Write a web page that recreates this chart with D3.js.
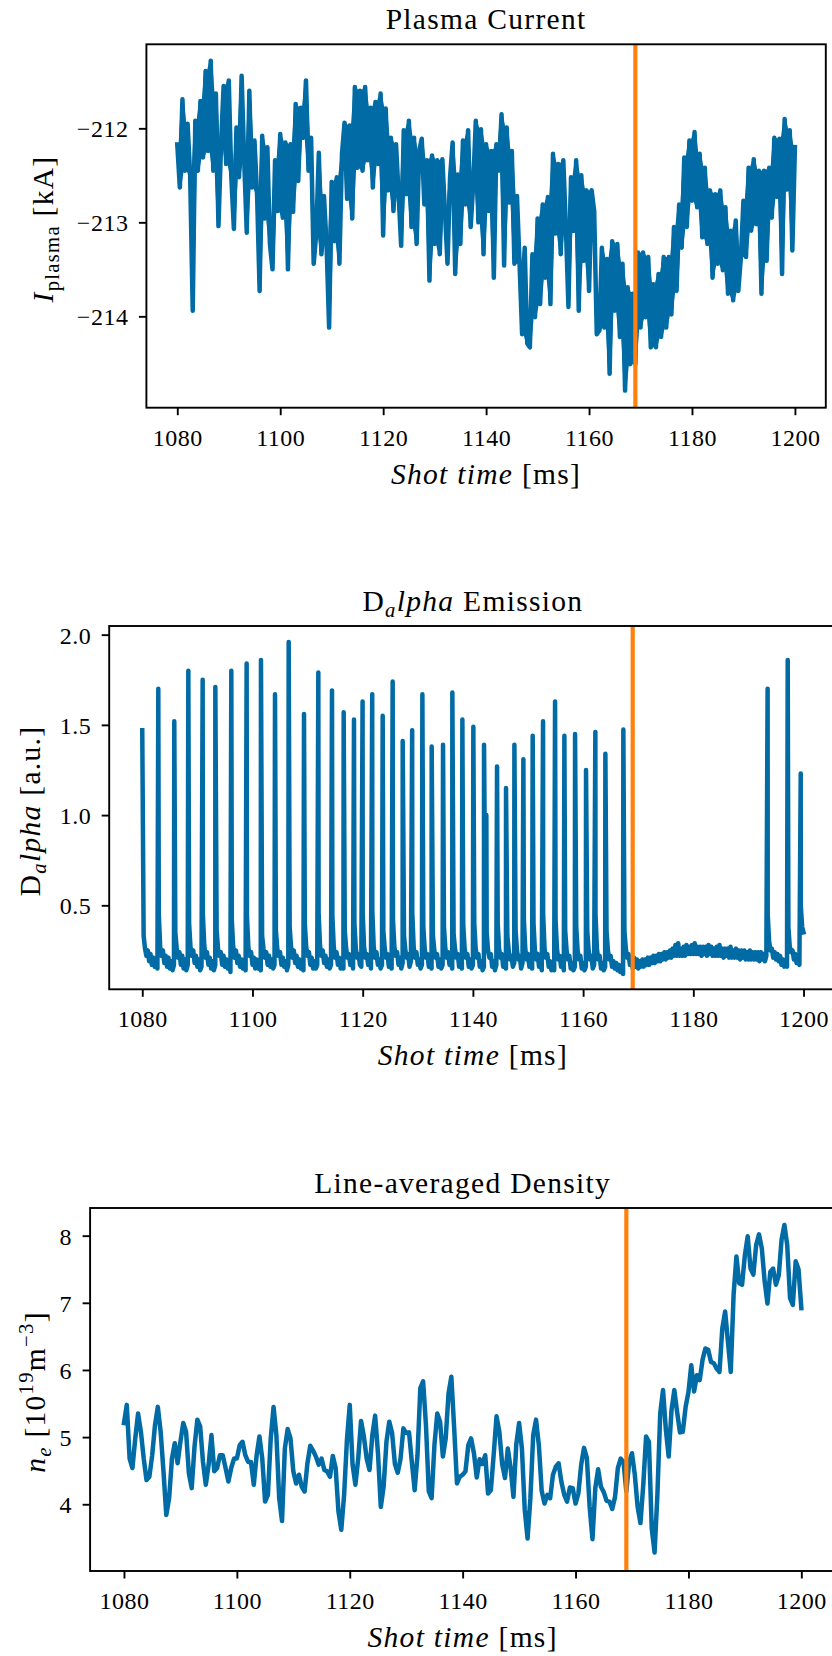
<!DOCTYPE html>
<html><head><meta charset="utf-8">
<script src="https://cdn.jsdelivr.net/npm/d3@7"></script>
<style>
html,body{margin:0;padding:0;background:#fff;}
svg{display:block;}
text{font-family:'Liberation Serif','Times New Roman',serif;fill:#000;}
</style></head><body>
<svg id="chart" width="832" height="1656"></svg>
<script>
// ---------- shared ----------
const timeTicks = [1080, 1100, 1120, 1140, 1160, 1180, 1200];
const timeDomain = [1074, 1206];
const markerTime = 1169;

// ---------- Plasma current (kA), sampled every 0.5 ms from 1080 ms ----------
const currentStart = 1080, currentStep = 0.5;
const currentValues = [
-212.17,-212.63,-211.69,-212.45,-211.95,-212.50,-213.94,-211.92,-212.45,-211.71,
-212.31,-211.39,-212.24,-211.28,-212.45,-211.63,-213.04,-212.17,-211.55,-212.38,
-211.49,-212.52,-213.07,-211.99,-212.52,-211.44,-212.34,-213.11,-211.60,-212.63,
-212.13,-212.70,-213.73,-212.08,-212.96,-212.20,-213.23,-213.50,-212.34,-212.88,
-212.06,-212.95,-212.15,-213.50,-212.17,-212.89,-211.74,-212.56,-211.78,-212.10,
-211.49,-212.45,-212.10,-213.44,-213.12,-212.26,-213.34,-212.72,-213.23,-214.12,
-212.57,-213.20,-212.52,-213.44,-212.27,-211.94,-212.75,-211.97,-212.96,-211.56,
-212.42,-211.60,-212.45,-211.56,-212.34,-211.78,-212.63,-211.72,-212.38,-211.63,
-213.14,
-211.79,-212.66,-212.10,-212.88,-212.17,-212.70,-213.25,-212.02,-212.70,-211.92,
-213.05,-212.10,-213.23,-212.24,-212.11,-212.81,-212.34,-213.62,-212.29,-213.23,
-212.34,-213.34,-212.33,-212.88,-213.44,-212.52,-212.15,-213.55,-212.49,-213.23,
-212.13,-212.81,-212.02,-213.05,-212.59,-211.92,-213.00,-212.01,-213.34,-212.17,
-212.88,-212.24,-213.59,-212.17,-212.45,-211.85,-213.46,-211.99,-212.79,-212.24,
-213.44,-212.72,-213.44,-214.19,-213.27,-214.29,-214.33,-213.34,-214.01,-212.96,
-213.87,-212.81,-213.59,-212.73,-213.87,-212.27,-213.12,-212.38,-213.34,-212.34,
-213.05,-213.90,-212.52,-213.09,-212.34,-213.94,-212.50,-213.41,-212.66,-213.73,
-212.66,-212.88,-214.19,-214.15,-213.27,-214.12,-213.39,-214.61,-213.20,-213.94,
-213.23,-214.22,-213.44,-214.79,-213.69,-214.51,-213.76,-214.51,-213.32,-214.12,
-213.32,-214.01,-213.37,-214.33,-213.66,-214.33,-213.55,-214.22,-213.37,-214.12,
-213.37,-213.98,-213.05,-213.73,-212.81,-213.27,-212.31,-213.05,-212.13,-212.77,
-212.04,-212.84,-212.27,-213.16,-212.42,-213.23,-212.66,-213.59,-212.70,-213.44,
-212.66,-213.51,-212.84,-213.76,-213.09,-213.83,-212.98,-213.73,-213.37,-212.77,
-213.37,-212.42,-213.09,-212.33,-213.02,-212.45,-213.76,-212.45,-213.41,-212.42,
-212.95,-212.10,-212.73,-212.11,-213.55,-211.90,-212.65,-212.02,-213.30,-212.20
];
const currentTicks = [-214, -213, -212];
const currentDomain = [-214.972, -211.106];

// ---------- D-alpha (a.u.), sampled every 0.25 ms from 1080 ms, plus ELM peaks ----------
const dalphaStart = 1080, dalphaStep = 0.25;
const dalphaValues = [
1.47,0.33,0.26,0.22,0.25,0.19,0.23,0.17,0.21,0.16,
0.20,0.15,0.45,0.27,0.22,0.25,0.18,0.22,0.16,0.21,
0.15,0.19,0.14,0.17,0.35,0.26,0.21,0.24,0.17,0.22,
0.15,0.20,0.14,0.17,0.40,0.27,0.22,0.25,0.18,0.22,
0.16,0.20,0.14,0.16,0.45,0.28,0.21,0.24,0.17,0.21,
0.15,0.19,0.14,0.17,0.36,0.26,0.22,0.24,0.17,0.22,
0.16,0.20,0.15,0.19,0.13,0.42,0.27,0.21,0.25,0.18,
0.22,0.16,0.20,0.15,0.18,0.14,0.44,0.27,0.22,0.24,
0.17,0.21,0.15,0.20,0.15,0.18,0.14,0.33,0.26,0.21,
0.24,0.17,0.22,0.16,0.20,0.15,0.17,0.36,0.26,0.22,
0.24,0.17,0.21,0.16,0.19,0.14,0.17,0.38,0.27,0.21,
0.25,0.18,0.22,0.16,0.20,0.15,0.18,0.14,0.40,0.27,
0.22,0.24,0.17,0.21,0.15,0.19,0.15,0.17,0.46,0.28,
0.22,0.25,0.18,0.22,0.16,0.20,0.15,0.17,0.44,0.27,
0.21,0.24,0.17,0.21,0.15,0.19,0.15,0.36,0.26,0.21,
0.23,0.17,0.20,0.15,0.40,0.26,0.21,0.23,0.17,0.16,
0.46,0.27,0.21,0.23,0.17,0.20,0.15,0.47,0.27,0.21,
0.24,0.17,0.20,0.15,0.17,0.36,0.26,0.21,0.23,0.16,
0.19,0.15,0.42,0.27,0.22,0.24,0.17,0.21,0.15,0.18,
0.33,0.25,0.21,0.23,0.16,0.19,0.46,0.27,0.21,0.24,
0.17,0.20,0.15,0.17,0.38,0.26,0.21,0.23,0.16,0.19,
0.15,0.33,0.25,0.21,0.23,0.16,0.20,0.15,0.17,0.38,
0.26,0.21,0.24,0.17,0.19,0.15,0.34,0.26,0.21,0.23,
0.16,0.19,0.15,0.39,0.26,0.21,0.23,0.16,0.20,0.15,
0.17,0.40,0.26,0.21,0.23,0.16,0.19,0.14,0.16,0.45,
0.35,0.25,0.21,0.23,0.16,0.19,0.14,0.17,0.40,0.26,
0.21,0.23,0.16,0.19,0.15,0.33,0.25,0.20,0.22,0.16,
0.18,0.36,0.25,0.20,0.22,0.15,0.18,0.42,0.26,0.20,
0.23,0.16,0.19,0.15,0.40,0.25,0.20,0.23,0.16,0.19,
0.14,0.45,0.26,0.21,0.23,0.16,0.19,0.14,0.17,0.14,
0.42,0.26,0.20,0.22,0.16,0.18,0.14,0.36,0.25,0.20,
0.22,0.15,0.18,0.14,0.16,0.38,0.25,0.20,0.22,0.15,
0.18,0.14,0.16,0.36,0.25,0.20,0.22,0.15,0.17,0.45,
0.26,0.20,0.22,0.15,0.18,0.14,0.16,0.36,0.25,0.20,
0.22,0.16,0.19,0.15,0.18,0.14,0.17,0.13,0.15,0.12,
0.36,0.26,0.21,0.23,0.17,0.20,0.15,0.21,0.16,0.20,
0.15,0.19,0.16,0.20,0.16,0.20,0.17,0.21,0.17,0.21,
0.18,0.22,0.18,0.22,0.19,0.23,0.19,0.23,0.20,0.24,
0.20,0.24,0.21,0.25,0.21,0.26,0.22,0.28,0.22,0.29,
0.22,0.26,0.22,0.27,0.22,0.28,0.23,0.27,0.23,0.28,
0.23,0.29,0.23,0.27,0.23,0.27,0.22,0.27,0.23,0.27,
0.22,0.28,0.23,0.27,0.22,0.26,0.22,0.27,0.22,0.28,
0.22,0.26,0.21,0.26,0.22,0.26,0.21,0.27,0.21,0.25,
0.21,0.26,0.21,0.25,0.20,0.25,0.21,0.25,0.20,0.24,
0.20,0.25,0.20,0.24,0.20,0.24,0.20,0.24,0.19,0.24,
0.20,0.23,0.19,0.22,0.45,0.30,0.25,0.26,0.21,0.24,
0.20,0.23,0.19,0.22,0.17,0.20,0.16,0.19,0.16,0.38,
0.27,0.24,0.25,0.20,0.23,0.18,0.21,0.17,0.50,0.38,
0.35
];
const elmTimes = [1082.91,1085.81,1088.36,1090.96,1093.26,1096.16,1098.94,1101.54,1104.09,1106.57,
1109.35,1111.95,1114.43,1116.55,1118.42,1119.98,1121.73,1123.63,1125.44,1127.26,
1128.98,1130.83,1132.52,1134.58,1136.27,1138.09,1140.08,1142.02,1142.44,1144.38,
1146.01,1147.53,1149.16,1150.85,1152.73,1154.91,1156.6,1158.54,1160.53,1162.22,
1164.04,1167.3,1193.48,1197.13,1199.49];
const elmPeaks = [1.70,1.52,1.80,1.75,1.71,1.80,1.84,1.86,1.67,1.96,
1.56,1.79,1.69,1.57,1.53,1.63,1.67,1.55,1.74,1.41,
1.47,1.67,1.38,1.39,1.68,1.53,1.49,1.39,1.00,1.27,
1.15,1.39,1.31,1.44,1.52,1.63,1.44,1.45,1.25,1.46,
1.34,1.475,1.70,1.86,1.23];
const dalphaTicks = [0.5, 1.0, 1.5, 2.0];
const dalphaDomain = [0.0345, 2.048];

// ---------- Line-averaged density (1e19 m^-3), sampled every 0.5 ms from 1080 ms ----------
const densityStart = 1080, densityStep = 0.5;
const densityValues = [
5.21,5.48,4.68,4.54,4.98,5.35,5.08,4.68,4.36,4.41,
4.73,5.18,5.45,5.08,4.49,3.84,4.09,4.68,4.91,4.61,
4.93,5.21,5.08,4.46,4.24,4.86,5.26,5.16,4.63,4.29,
4.59,5.03,4.49,4.54,4.73,4.73,4.54,4.34,4.54,4.68,
4.68,4.88,4.93,4.73,4.63,4.63,4.29,4.73,5.01,4.68,
4.04,4.14,4.98,5.45,5.03,4.09,3.75,4.83,5.12,4.98,
4.49,4.31,4.44,4.26,4.19,4.61,4.87,4.80,4.71,4.59,
4.68,4.51,4.49,4.41,4.72,4.54,3.89,3.62,4.14,4.96,
5.48,
4.59,4.29,4.68,5.24,5.01,4.68,4.51,5.03,5.32,4.76,
3.96,4.26,4.93,5.23,5.06,4.60,4.47,4.68,5.13,5.06,
5.07,4.63,4.21,4.73,5.73,5.83,5.18,4.19,4.09,4.88,
5.35,5.23,4.71,4.98,5.65,5.90,5.13,4.31,4.41,4.44,
4.49,4.88,4.98,4.76,4.40,4.67,4.60,4.73,4.16,4.21,
4.74,5.31,5.08,4.60,4.39,4.83,4.54,4.11,4.89,5.21,
4.83,3.92,3.49,4.09,5.03,5.26,4.88,4.20,4.01,4.14,
4.09,4.44,4.56,4.61,4.33,4.14,4.04,4.25,4.24,4.01,
4.16,4.59,4.84,4.69,3.96,3.48,4.24,4.52,4.26,4.18,
4.05,4.04,3.93,4.11,4.54,4.68,4.63,4.19,4.63,4.76,
4.44,3.96,3.72,4.29,5.01,4.93,3.64,3.28,4.14,5.35,
5.70,5.11,4.71,5.40,5.70,5.37,5.07,5.08,5.45,5.67,
6.07,5.68,5.92,5.85,6.15,6.32,6.30,6.12,6.10,6.02,
5.97,6.62,6.87,6.42,5.97,7.12,7.69,7.29,7.27,7.71,
7.99,7.51,7.42,7.86,8.02,7.81,7.32,6.99,7.46,7.51,
7.27,7.41,7.94,8.16,7.86,7.07,6.97,7.62,7.50,6.92
];
const densityTicks = [4, 5, 6, 7, 8];
const densityDomain = [3.006, 8.412];

// ---------- drawing ----------
const BLUE = '#006BA4', ORANGE = '#FF800E';
const svg = d3.select('#chart');
const TICK_FS = 24, LABEL_FS = 29.5;

function gridSeries(start, step, values) {
  return values.map((v, i) => ({ t: start + i * step, v }));
}
const currentSeries = gridSeries(currentStart, currentStep, currentValues);
const dalphaSeries = gridSeries(dalphaStart, dalphaStep, dalphaValues)
  .concat(elmTimes.map((t, i) => ({ t, v: elmPeaks[i] })))
  .sort((a, b) => a.t - b.t);
const densitySeries = gridSeries(densityStart, densityStep, densityValues);

function rich(g, parts, fs) {
  const t = g.append('text').attr('font-size', fs).attr('text-anchor', 'middle')
    .style('letter-spacing', '1.3px');
  let off = 0;
  parts.forEach(p => {
    const target = p.sub ? 0.2 * fs : p.sup ? -0.4 * fs : 0;
    const ts = t.append('tspan').text(p.s)
      .style('font-style', p.i ? 'italic' : 'normal')
      .attr('font-size', (p.sub || p.sup) ? fs * 0.7 : fs);
    if (target - off !== 0) ts.attr('dy', target - off);
    off = target;
  });
  return t;
}

const panels = [
  { series: currentSeries, domain: currentDomain, ticks: currentTicks, dense: true,
    fmt: d => d3.format('d')(d).replace('-', '\u2212'),
    left: 146.4, right: 825.8, top: 44.3, bottom: 407.7,
    title: [{ s: 'Plasma Current' }],
    ylabel: [{ s: 'I', i: true }, { s: 'plasma', sub: true }, { s: ' [kA]' }],
    ylabelX: 53, ylabelY: 229 },
  { series: dalphaSeries, domain: dalphaDomain, ticks: dalphaTicks,
    fmt: d3.format('.1f'),
    left: 109.2, right: 836.6, top: 626, bottom: 989.3,
    title: [{ s: 'D' }, { s: 'a', i: true, sub: true }, { s: 'lpha', i: true }, { s: ' Emission' }],
    ylabel: [{ s: 'D' }, { s: 'a', i: true, sub: true }, { s: 'lpha', i: true }, { s: ' [a.u.]' }],
    ylabelX: 40, ylabelY: 811 },
  { series: densitySeries, domain: densityDomain, ticks: densityTicks,
    fmt: d3.format('d'),
    left: 90.1, right: 835.2, top: 1208, bottom: 1571,
    title: [{ s: 'Line-averaged Density' }],
    ylabel: [{ s: 'n', i: true }, { s: 'e', i: true, sub: true }, { s: ' [10' }, { s: '19', sup: true },
             { s: 'm' }, { s: '\u22123', sup: true }, { s: ']' }],
    ylabelX: 45, ylabelY: 1392 }
];

panels.forEach(p => {
  const g = svg.append('g');
  const x = d3.scaleLinear().domain(timeDomain).range([p.left, p.right]);
  const y = d3.scaleLinear().domain(p.domain).range([p.bottom, p.top]);

  if (p.dense) {
    // the fast fluctuation fills the space between successive samples
    const pairs = d3.pairs(p.series);
    g.append('path').datum(pairs)
      .attr('d', d3.area()
        .x(d => x((d[0].t + d[1].t) / 2))
        .y0(d => y(Math.min(d[0].v, d[1].v)))
        .y1(d => y(Math.max(d[0].v, d[1].v))))
      .attr('fill', BLUE).attr('stroke', 'none');
  }
  const line = d3.line().x(d => x(d.t)).y(d => y(d.v));
  g.append('path').datum(p.series).attr('d', line)
    .attr('fill', 'none').attr('stroke', BLUE).attr('stroke-width', 4.5)
    .attr('stroke-linejoin', 'round').attr('stroke-linecap', 'square');

  g.append('line').attr('x1', x(markerTime)).attr('x2', x(markerTime))
    .attr('y1', p.top).attr('y2', p.bottom)
    .attr('stroke', ORANGE).attr('stroke-width', 4.2);

  g.append('rect').attr('x', p.left).attr('y', p.top)
    .attr('width', p.right - p.left).attr('height', p.bottom - p.top)
    .attr('fill', 'none').attr('stroke', '#000').attr('stroke-width', 1.9);

  const xa = g.append('g').attr('transform', `translate(0,${p.bottom})`)
    .call(d3.axisBottom(x).tickValues(timeTicks).tickSize(7.5).tickSizeOuter(0).tickFormat(d3.format('d')));
  xa.select('.domain').remove();
  xa.selectAll('.tick line').attr('stroke', '#000').attr('stroke-width', 1.9);
  xa.selectAll('.tick text').attr('y', 38).attr('dy', null)
    .attr('font-size', TICK_FS).attr('font-family', null).attr('fill', '#000')
    .style('letter-spacing', '0.5px');

  const ya = g.append('g').attr('transform', `translate(${p.left},0)`)
    .call(d3.axisLeft(y).tickValues(p.ticks).tickSize(7.5).tickSizeOuter(0).tickFormat(p.fmt));
  ya.select('.domain').remove();
  ya.selectAll('.tick line').attr('stroke', '#000').attr('stroke-width', 1.9);
  ya.selectAll('.tick text').attr('x', -18).attr('dy', '0.35em')
    .attr('font-size', TICK_FS).attr('font-family', null).attr('fill', '#000')
    .style('letter-spacing', '0.5px');
  xa.attr('font-family', null); ya.attr('font-family', null);

  const cx = (p.left + p.right) / 2;
  rich(g, p.title, LABEL_FS).attr('x', cx).attr('y', p.top - 15);
  rich(g, [{ s: 'Shot time', i: true }, { s: ' [ms]' }], LABEL_FS).attr('x', cx).attr('y', p.bottom + 76);
  rich(g, p.ylabel, LABEL_FS)
    .attr('transform', `translate(${p.ylabelX},${p.ylabelY}) rotate(-90)`);
});
</script>
</body></html>
